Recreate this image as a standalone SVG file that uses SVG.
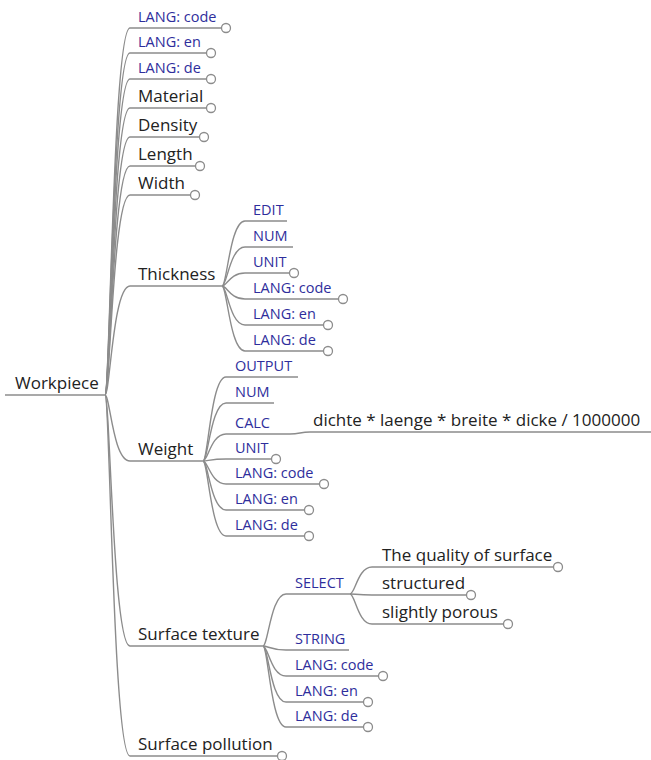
<svg xmlns="http://www.w3.org/2000/svg" width="651" height="760" viewBox="0 0 651 760">
<style>
.m{font-family:"Open Sans","Liberation Sans",sans-serif;font-size:17px;fill:#222}
.s{font-family:"Open Sans","Liberation Sans",sans-serif;font-size:14.5px;fill:#2e2e9c}
.c path{fill:none;stroke:#8c8c8c;stroke-width:1.4}
.c circle{fill:#fff;stroke:#8c8c8c;stroke-width:1.3}
</style>
<rect width="651" height="760" fill="#fff"/>
<g class="c" id="connectors">
<path d="M5 395H105"/>
<path d="M105 395C110 395 113 28 130 28H221.5"/>
<path d="M105 395C110 395 113 53 130 53H206.5"/>
<path d="M105 395C110 395 113 79 130 79H206.5"/>
<path d="M105 395C110 395 113 108 130 108H206.5"/>
<path d="M105 395C110 395 113 137 130 137H199.5"/>
<path d="M105 395C110 395 113 166 130 166H195.5"/>
<path d="M105 395C110 395 113 195 130 195H190.5"/>
<path d="M105 395C110 395 113 286 130 286H222"/>
<path d="M105 395C110 395 113 461 130 461H203"/>
<path d="M105 395C110 395 113 646 130 646H263"/>
<path d="M105 395C110 395 113 756 130 756H277.5"/>
<path d="M222 286C227 286 230 221 245 221H287"/>
<path d="M222 286C227 286 230 247 245 247H293"/>
<path d="M222 286C227 286 230 273 245 273H289.5"/>
<path d="M222 286C227 286 230 299 245 299H338.5"/>
<path d="M222 286C227 286 230 325 245 325H323.5"/>
<path d="M222 286C227 286 230 351 245 351H323.5"/>
<path d="M203 461C208 461 211 377 226 377H298"/>
<path d="M203 461C208 461 211 403 226 403H274"/>
<path d="M203 461C208 461 211 434 226 434H290C300 434 300 432 310 432H651"/>
<path d="M203 461C208 461 211 459 226 459H271.5"/>
<path d="M203 461C208 461 211 484 226 484H319.5"/>
<path d="M203 461C208 461 211 510 226 510H304.5"/>
<path d="M203 461C208 461 211 536 226 536H304.5"/>
<path d="M263 646C268 646 271 594 286 594H350"/>
<path d="M263 646C268 646 271 650 286 650H349"/>
<path d="M263 646C268 646 271 676 286 676H378.5"/>
<path d="M263 646C268 646 271 702 286 702H363.5"/>
<path d="M263 646C268 646 271 727 286 727H363.5"/>
<path d="M350 594C355 594 358 567 372 567H553.5"/>
<path d="M350 594C355 594 358 595 372 595H466.5"/>
<path d="M350 594C355 594 358 624 372 624H503.5"/>
<circle cx="226" cy="28" r="4.5"/>
<circle cx="211" cy="53" r="4.5"/>
<circle cx="211" cy="79" r="4.5"/>
<circle cx="211" cy="108" r="4.5"/>
<circle cx="204" cy="137" r="4.5"/>
<circle cx="200" cy="166" r="4.5"/>
<circle cx="195" cy="195" r="4.5"/>
<circle cx="282" cy="756" r="4.5"/>
<circle cx="294" cy="273" r="4.5"/>
<circle cx="343" cy="299" r="4.5"/>
<circle cx="328" cy="325" r="4.5"/>
<circle cx="328" cy="351" r="4.5"/>
<circle cx="276" cy="459" r="4.5"/>
<circle cx="324" cy="484" r="4.5"/>
<circle cx="309" cy="510" r="4.5"/>
<circle cx="309" cy="536" r="4.5"/>
<circle cx="383" cy="676" r="4.5"/>
<circle cx="368" cy="702" r="4.5"/>
<circle cx="368" cy="727" r="4.5"/>
<circle cx="558" cy="567" r="4.5"/>
<circle cx="471" cy="595" r="4.5"/>
<circle cx="508" cy="624" r="4.5"/>
</g>
<g id="workpiece"><text class="m" x="15" y="389">Workpiece</text></g>
<g id="lang-code"><text class="s" x="138" y="22">LANG: code</text></g>
<g id="lang-en"><text class="s" x="138" y="47">LANG: en</text></g>
<g id="lang-de"><text class="s" x="138" y="73">LANG: de</text></g>
<g id="material"><text class="m" x="138" y="102">Material</text></g>
<g id="density"><text class="m" x="138" y="131">Density</text></g>
<g id="length"><text class="m" x="138" y="160">Length</text></g>
<g id="width"><text class="m" x="138" y="189">Width</text></g>
<g id="thickness"><text class="m" x="138" y="280">Thickness</text></g>
<g id="th-edit"><text class="s" x="253" y="215">EDIT</text></g>
<g id="th-num"><text class="s" x="253" y="241">NUM</text></g>
<g id="th-unit"><text class="s" x="253" y="267">UNIT</text></g>
<g id="th-lang-code"><text class="s" x="253" y="293">LANG: code</text></g>
<g id="th-lang-en"><text class="s" x="253" y="319">LANG: en</text></g>
<g id="th-lang-de"><text class="s" x="253" y="345">LANG: de</text></g>
<g id="weight"><text class="m" x="138" y="455">Weight</text></g>
<g id="w-output"><text class="s" x="235" y="371">OUTPUT</text></g>
<g id="w-num"><text class="s" x="235" y="397">NUM</text></g>
<g id="w-calc"><text class="s" x="235" y="428">CALC</text></g>
<g id="w-formula"><text class="m" x="313" y="426">dichte * laenge * breite * dicke / 1000000</text></g>
<g id="w-unit"><text class="s" x="235" y="453">UNIT</text></g>
<g id="w-lang-code"><text class="s" x="235" y="478">LANG: code</text></g>
<g id="w-lang-en"><text class="s" x="235" y="504">LANG: en</text></g>
<g id="w-lang-de"><text class="s" x="235" y="530">LANG: de</text></g>
<g id="surface-texture"><text class="m" x="138" y="640">Surface texture</text></g>
<g id="st-select"><text class="s" x="295" y="588">SELECT</text></g>
<g id="opt-quality"><text class="m" x="382" y="561">The quality of surface</text></g>
<g id="opt-structured"><text class="m" x="382" y="589">structured</text></g>
<g id="opt-porous"><text class="m" x="382" y="618">slightly porous</text></g>
<g id="st-string"><text class="s" x="295" y="644">STRING</text></g>
<g id="st-lang-code"><text class="s" x="295" y="670">LANG: code</text></g>
<g id="st-lang-en"><text class="s" x="295" y="696">LANG: en</text></g>
<g id="st-lang-de"><text class="s" x="295" y="721">LANG: de</text></g>
<g id="surface-pollution"><text class="m" x="138" y="750">Surface pollution</text></g>
</svg>
